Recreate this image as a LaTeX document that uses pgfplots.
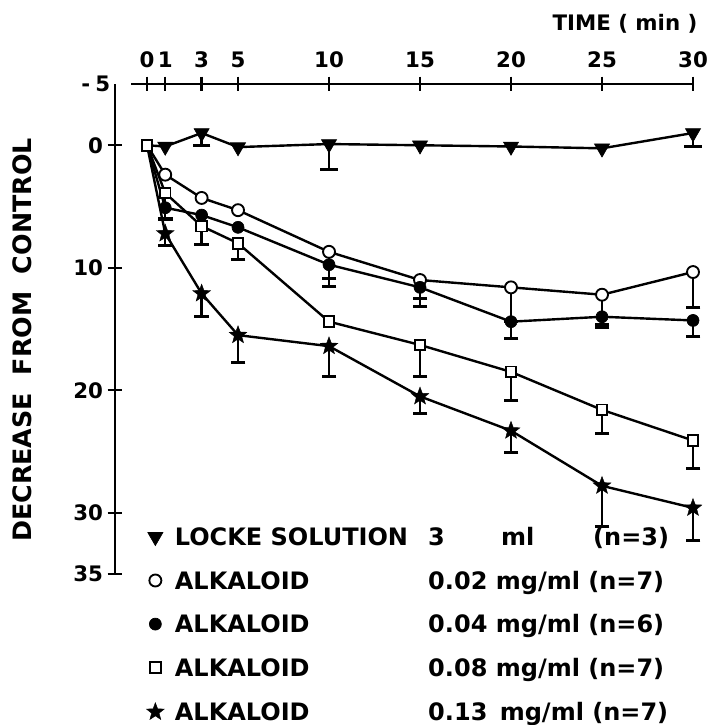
\documentclass[border=0pt]{standalone}
\usepackage{fontspec}
\setmainfont{DejaVu Sans}
\usepackage{pgfplots}
\usepackage{pgfplotstable}
\pgfplotsset{compat=1.18}

\pgfdeclareplotmark{fstar}{%
  \pgfpathmoveto{\pgfpointpolar{90}{\pgfplotmarksize}}%
  \pgfpathlineto{\pgfpointpolar{126}{0.42\pgfplotmarksize}}%
  \pgfpathlineto{\pgfpointpolar{162}{\pgfplotmarksize}}%
  \pgfpathlineto{\pgfpointpolar{198}{0.42\pgfplotmarksize}}%
  \pgfpathlineto{\pgfpointpolar{234}{\pgfplotmarksize}}%
  \pgfpathlineto{\pgfpointpolar{270}{0.42\pgfplotmarksize}}%
  \pgfpathlineto{\pgfpointpolar{306}{\pgfplotmarksize}}%
  \pgfpathlineto{\pgfpointpolar{342}{0.42\pgfplotmarksize}}%
  \pgfpathlineto{\pgfpointpolar{18}{\pgfplotmarksize}}%
  \pgfpathlineto{\pgfpointpolar{54}{0.42\pgfplotmarksize}}%
  \pgfpathclose
  \pgfusepathqfillstroke
}

% Locke solution 3 ml
\pgfplotstableread{
x y
0 0
1 0.1
3 -1.0
5 0.15
10 -0.1
15 0.0
20 0.1
25 0.25
30 -1.0
}\lockeT
\pgfplotstableread{
x y e
3 -1.0 1.0
10 -0.1 2.1
30 -1.0 1.1
}\lockeE
% Alkaloid 0.02
\pgfplotstableread{
x y
0 0
1 2.4
3 4.3
5 5.3
10 8.7
15 11.0
20 11.6
25 12.2
30 10.35
}\aT
\pgfplotstableread{
x y e
10 8.7 2.2
15 11.0 1.5
20 11.6 2.8
25 12.2 2.4
30 10.35 2.9
}\aE
% Alkaloid 0.04
\pgfplotstableread{
x y
0 0
1 5.1
3 5.7
5 6.7
10 9.75
15 11.6
20 14.4
25 14.0
30 14.3
}\bT
\pgfplotstableread{
x y e
1 5.1 0.9
10 9.75 1.8
15 11.6 1.6
20 14.4 1.4
25 14.0 0.9
30 14.3 1.3
}\bE
% Alkaloid 0.08
\pgfplotstableread{
x y
0 0
1 3.9
3 6.6
5 8.0
10 14.4
15 16.3
20 18.5
25 21.6
30 24.1
}\cT
\pgfplotstableread{
x y e
1 3.9 2.2
3 6.6 1.5
5 8.0 1.35
15 16.3 2.6
20 18.5 2.3
25 21.6 1.9
30 24.1 2.3
}\cE
% Alkaloid 0.13
\pgfplotstableread{
x y
0 0
1 7.2
3 12.1
5 15.5
10 16.4
15 20.5
20 23.3
25 27.8
30 29.6
}\dT
\pgfplotstableread{
x y e
1 7.2 1.0
3 12.1 1.9
5 15.5 2.2
10 16.4 2.5
15 20.5 1.4
20 23.3 1.8
25 27.8 3.3
30 29.6 2.7
}\dE

\begin{document}
\begin{tikzpicture}[x=1pt,y=1pt]
\useasboundingbox (0,0) rectangle (540,-543.75);
\begin{axis}[
  at={(86.25pt,-63pt)}, anchor=north west,
  scale only axis, width=433.5pt, height=367.5pt,
  xmin=-1.76, xmax=30, ymin=-5, ymax=35, y dir=reverse,
  axis y line*=left, axis x line*=top,
  x axis line style={-, line width=1.9pt, shorten <=12pt},
  y axis line style={-, line width=1.9pt},
  xtick={0,1,3,5,10,15,20,25,30},
  xticklabels={0,1,3,5,10,15,20,25,30},
  ytick={0,10,20,30,35},
  yticklabels={0,10,20,30,35},
  extra y ticks={-5},
  extra y tick labels={{-\hspace{4pt}5}},
  extra y tick style={major tick length=0pt},
  tick align=center,
  major tick length=11pt,
  tick style={line width=1.8pt, black},
  xticklabel style={font=\fontsize{16}{16}\bfseries\selectfont},
  yticklabel style={font=\fontsize{16}{16}\bfseries\selectfont},
  xticklabel shift=3pt,
  clip=false,
  every axis plot/.append style={line width=1.8pt, black},
  legend image code/.code={\draw[#1, only marks, mark indices={1}] plot coordinates {(0cm,0cm)};},
  legend cell align=left,
  legend style={draw=none, fill=none, inner sep=0pt,
    at={(axis description cs:0.054,0.094)}, anchor=north west,
    font=\fontsize{18}{18}\bfseries\selectfont,
    row sep=19.7pt, column sep=8pt,
    nodes={inner sep=0pt, text height=13pt, text depth=0pt}},
]
% error bars first
\addplot[black, only marks, mark=none, forget plot,
  error bars/.cd, y dir=plus, y explicit,
  error bar style={line width=1.8pt, black},
  error mark options={rotate=90, mark size=6.5pt, line width=2.2pt, black}]
  table[x=x, y=y, y error=e] {\lockeE};
\addplot[black, only marks, mark=none, forget plot,
  error bars/.cd, y dir=plus, y explicit,
  error bar style={line width=1.8pt, black},
  error mark options={rotate=90, mark size=5.5pt, line width=2.2pt, black}]
  table[x=x, y=y, y error=e] {\aE};
\addplot[black, only marks, mark=none, forget plot,
  error bars/.cd, y dir=plus, y explicit,
  error bar style={line width=1.8pt, black},
  error mark options={rotate=90, mark size=5.5pt, line width=2.2pt, black}]
  table[x=x, y=y, y error=e] {\bE};
\addplot[black, only marks, mark=none, forget plot,
  error bars/.cd, y dir=plus, y explicit,
  error bar style={line width=1.8pt, black},
  error mark options={rotate=90, mark size=5.5pt, line width=2.2pt, black}]
  table[x=x, y=y, y error=e] {\cE};
\addplot[black, only marks, mark=none, forget plot,
  error bars/.cd, y dir=plus, y explicit,
  error bar style={line width=1.8pt, black},
  error mark options={rotate=90, mark size=5.5pt, line width=2.2pt, black}]
  table[x=x, y=y, y error=e] {\dE};

\addplot[mark=triangle*, mark size=6.5pt, mark indices={2,3,4,5,6,7,8,9},
  mark options={solid, rotate=180, fill=black, line width=0.5pt}]
  table[x=x, y=y] {\lockeT};
\addlegendentry{\makebox[190pt][l]{LOCKE SOLUTION}\makebox[54.75pt][l]{3}\makebox[69pt][l]{ml}(n=3)}
\addplot[mark=*, mark size=4.5pt, mark indices={2,3,4,5,6,7,8,9},
  mark options={solid, fill=white, line width=1.4pt}]
  table[x=x, y=y] {\aT};
\addlegendentry{\makebox[190pt][l]{ALKALOID}0.02 mg/ml (n=7)}
\addplot[mark=*, mark size=4.5pt, mark indices={2,3,4,5,6,7,8,9},
  mark options={solid, fill=black, line width=0.5pt}]
  table[x=x, y=y] {\bT};
\addlegendentry{\makebox[190pt][l]{ALKALOID}0.04 mg/ml (n=6)}
\addplot[mark=square*, mark size=4pt,
  mark options={solid, fill=white, line width=1.4pt}]
  table[x=x, y=y] {\cT};
\addlegendentry{\makebox[190pt][l]{ALKALOID}0.08 mg/ml (n=7)}
\addplot[mark=fstar, mark size=7pt, mark indices={2,3,4,5,6,7,8,9},
  mark options={solid, fill=black, line width=0.3pt}]
  table[x=x, y=y] {\dT};
\addlegendentry{\makebox[190pt][l]{ALKALOID}0.13 \,mg/ml (n=7)}
\end{axis}
\node[font=\fontsize{16}{16}\bfseries\selectfont] at (468.75,-18) {TIME ( min )};
\node[rotate=90, font=\fontsize{19}{19}\bfseries\selectfont] at (16.5,-255) {DECREASE\ \ FROM\ \ CONTROL};
\end{tikzpicture}
\end{document}
